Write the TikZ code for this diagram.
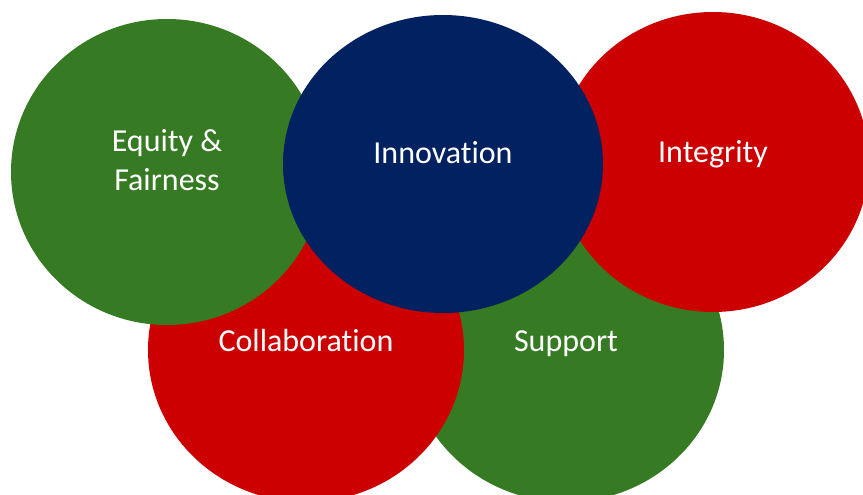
\documentclass[tikz,border=0pt]{standalone}
\usepackage{fontspec}
\setmainfont{Carlito}[RawFeature={-liga}]
\usetikzlibrary{calc, shapes.geometric, positioning}
\definecolor{valgreen}{RGB}{54,123,35}
\definecolor{valred}{RGB}{204,0,0}
\definecolor{valblue}{RGB}{2,33,96}

\begin{document}
\begin{tikzpicture}[x=1pt, y=-1pt,
    bubble/.style={ellipse, inner sep=0pt, draw=none},
    word/.style={text=white, inner sep=0pt, font=\fontsize{32}{39}\selectfont}]
            \useasboundingbox (0, 0) rectangle (863, 495);
            \clip (0, 0) rectangle (863, 495);
            % lower row first, upper row on top
            \node[bubble, fill=valgreen, minimum width=316pt, minimum height=304pt] (sup) at (566, 350) {};
            \node[bubble, fill=valred, minimum width=316pt, minimum height=304pt] (col) at (306, 350) {};
            \node[bubble, fill=valgreen, minimum width=312pt, minimum height=306pt] (equ) at (167, 172) {};
            \node[bubble, fill=valred, minimum width=312pt, minimum height=300pt] (integ) at (713, 162) {};
            \node[bubble, fill=valblue, minimum width=320pt, minimum height=298pt] (inn) at (443, 164) {};
            % labels
            \node[word, align=center] (tequ) at ($(equ.center) + (0, -12)$) {Equity \&\\Fairness};
            \node[word, anchor=base] (tinn) at ($(inn.center) + (0, -1)$) {Innovation};
            \node[word, anchor=base] (tinteg) at ($(integ.center) + (0, 0)$) {Integrity};
            \node[word, anchor=base] (tcol) at ($(col.center) + (0, 1)$) {Collaboration};
            \node[word, anchor=base] (tsup) at ($(sup.center) + (0, 1)$) {Support};
        \end{tikzpicture}
\end{document}
